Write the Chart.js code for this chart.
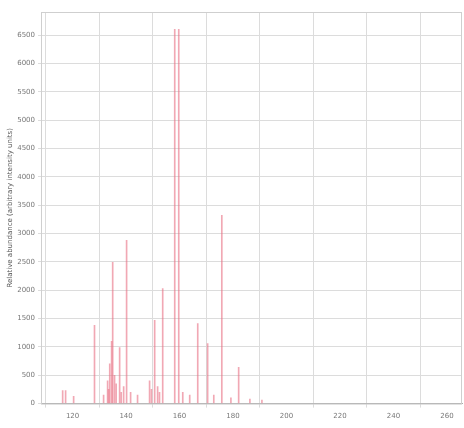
<!DOCTYPE html>
<html>
<head>
<meta charset="utf-8">
<script src="https://cdn.jsdelivr.net/npm/chart.js@4/dist/chart.umd.min.js"></script>
<style>
html,body{margin:0;padding:0;background:#fff;}
#wrap{width:464px;height:428px;position:relative;}
</style>
</head>
<body>
<div id="wrap"><canvas id="c" width="464" height="428"></canvas></div>
<script>
// Peak positions (m/z) and intensities
const peakPositions = [116.3, 117.4, 120.4, 128.2, 131.6, 133.1, 133.5, 133.9, 134.6, 135.0, 135.7, 136.3, 137.6, 138.2, 139.1, 140.2, 141.7, 144.3, 148.8, 149.5, 150.7, 151.8, 152.5, 153.7, 158.2, 159.7, 161.2, 163.8, 166.8, 170.5, 172.8, 175.8, 179.2, 182.1, 186.3, 190.8];
const peakIntensities = [230, 230, 130, 1380, 150, 400, 250, 700, 1100, 2490, 500, 350, 990, 200, 300, 2880, 200, 150, 400, 250, 1470, 300, 200, 2030, 6600, 6600, 200, 150, 1410, 1060, 150, 3320, 100, 640, 80, 60];
const xTickLabels = [120, 140, 160, 180, 200, 220, 240, 260];
const yTickLabels = [0, 500, 1000, 1500, 2000, 2500, 3000, 3500, 4000, 4500, 5000, 5500, 6000, 6500];
const yAxisTitle = "Relative abundance (arbitrary intensity units)";

const points = peakPositions.map((x, i) => ({ x: x, y: peakIntensities[i] }));

const boxPlugin = {
  id: 'box',
  afterDraw(chart) {
    const a = chart.chartArea, ctx = chart.ctx;
    ctx.save();
    ctx.strokeStyle = '#cfcfcf';
    ctx.lineWidth = 1;
    ctx.strokeRect(a.left + 0.5, a.top + 0.5, a.right - a.left - 1, a.bottom - a.top);
    ctx.restore();
  }
};

new Chart(document.getElementById('c'), {
  type: 'bar',
  data: {
    datasets: [{
      data: points,
      backgroundColor: 'rgba(232, 110, 130, 0.6)',
      borderWidth: 0,
      barThickness: 1,
      grouped: false
    }]
  },
  options: {
    responsive: false,
    animation: false,
    plugins: { legend: { display: false }, tooltip: { enabled: false } },
    layout: { padding: { left: 4, right: 2, top: 12, bottom: 4 } },
    scales: {
      x: {
        type: 'linear',
        offset: false,
        min: 108.2,
        max: 265.6,
        afterBuildTicks(axis) { axis.ticks = xTickLabels.map(v => ({ value: v })); },
        ticks: { font: { size: 7, family: 'DejaVu Sans' }, color: '#777', maxRotation: 0, padding: 4, callback: v => String(v) },
        grid: { color: '#dcdcdc', tickLength: 4 },
        border: { color: '#aaa' }
      },
      y: {
        type: 'linear',
        min: 0,
        max: 6906,
        afterBuildTicks(axis) { axis.ticks = yTickLabels.map(v => ({ value: v })); },
        afterFit(axis) { axis.width = 37; },
        ticks: { font: { size: 7, family: 'DejaVu Sans' }, color: '#777', padding: 3, callback: v => String(v) },
        grid: { color: '#dcdcdc', tickLength: 3 },
        border: { color: '#aaa' },
        title: { display: true, text: yAxisTitle, font: { size: 7, family: 'DejaVu Sans' }, color: '#555', padding: 2 }
      }
    }
  },
  plugins: [boxPlugin]
});
</script>
</body>
</html>
